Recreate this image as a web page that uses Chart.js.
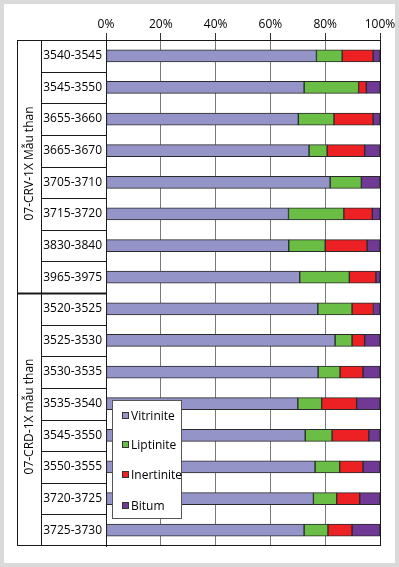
<!DOCTYPE html>
<html>
<head>
<meta charset="utf-8">
<script src="https://cdn.jsdelivr.net/npm/chart.js@4/dist/chart.umd.min.js"></script>
<style>
  html, body { margin:0; padding:0; background:#fff; }
  #wrap { position:relative; width:399px; height:567px; overflow:hidden; }
  #frame { position:absolute; left:0; top:0; width:399px; height:567px; box-sizing:border-box; border:4px solid #dadada; }
  #c { position:absolute; left:0; top:0; }
  #legend { position:absolute; left:112px; top:400px; width:70px; height:119px; box-sizing:border-box;
            border:1px solid #555; background:#fff; font-family:'Open Sans', sans-serif; font-size:12px; color:#000; }
  #legend .item { position:absolute; left:9px; height:16px; line-height:16px; white-space:nowrap; }
  #legend .sw { display:inline-block; width:5px; height:5px; border:1px solid #333; vertical-align:middle; margin-right:2px; position:relative; top:-1px; }
</style>
</head>
<body>
<div id="wrap">
  <div id="frame"></div>
  <canvas id="c" width="399" height="567"></canvas>
  <div id="legend"></div>
</div>
<script>
const categories = ['3540-3545','3545-3550','3655-3660','3665-3670','3705-3710','3715-3720','3830-3840','3965-3975',
                    '3520-3525','3525-3530','3530-3535','3535-3540','3545-3550','3550-3555','3720-3725','3725-3730'];
const groupLabels = ['07-CRV-1X Mẫu than', '07-CRD-1X mẫu than'];
const groupSizes = [8, 8];
const seriesNames = ['Vitrinite', 'Liptinite', 'Inertinite', 'Bitum'];
const vitrinite  = [76.8, 72.3, 70.2, 74.1, 81.8, 66.6, 66.7, 70.7, 77.3, 83.6, 77.4, 70.0, 72.7, 76.3, 75.7, 72.3];
const liptinite  = [ 9.4, 19.9, 13.0,  6.6, 11.4, 20.2, 13.3, 18.1, 12.5,  6.2,  8.0,  8.7,  9.8,  9.0,  8.5,  8.7];
const inertinite = [11.3,  2.8, 14.3, 13.7,  0.0, 10.4, 15.3,  9.7,  7.8,  4.6,  8.4, 12.8, 13.4,  8.5,  8.4,  8.8];
const bitum      = [ 2.5,  5.0,  2.5,  5.6,  6.8,  2.8,  4.7,  1.5,  2.4,  5.6,  6.2,  8.5,  4.1,  6.2,  7.4, 10.2];
const xTickValues = [0, 20, 40, 60, 80, 100];

const colors = ['#9594c8', '#6abd45', '#ed2024', '#703996'];
const FONT = "'Open Sans', sans-serif";

const tablePlugin = {
  id: 'tablePlugin',
  afterDraw(chart) {
    const ctx = chart.ctx;
    const ys = chart.scales.y;
    const area = chart.chartArea;
    const xL = 17.5, xM = 41.5, xP = area.left;
    const top = area.top, bot = area.bottom;
    ctx.save();
    ctx.strokeStyle = '#1a1a1a';
    ctx.lineWidth = 1;
    ctx.beginPath();
    ctx.moveTo(xL, top); ctx.lineTo(xL, bot);
    ctx.moveTo(xM, top); ctx.lineTo(xM, bot);
    ctx.moveTo(xL, top + 0.5); ctx.lineTo(xP, top + 0.5);
    ctx.moveTo(xL, bot - 0.5); ctx.lineTo(area.right, bot - 0.5);
    ctx.stroke();
    let boundaries = [];
    let acc = 0;
    groupSizes.forEach(n => { acc += n; boundaries.push(acc); });
    for (let i = 1; i < categories.length; i++) {
      const y = Math.round((ys.getPixelForValue(i - 1) + ys.getPixelForValue(i)) / 2) + 0.5;
      const isGroup = boundaries.includes(i);
      ctx.beginPath();
      ctx.lineWidth = isGroup ? 2 : 1;
      ctx.moveTo(isGroup ? xL : xM, y);
      ctx.lineTo(xP, y);
      ctx.stroke();
    }
    // group labels
    ctx.fillStyle = '#000';
    ctx.font = '12px ' + FONT;
    ctx.textAlign = 'center';
    ctx.textBaseline = 'middle';
    const step = ys.getPixelForValue(1) - ys.getPixelForValue(0);
    let start = 0;
    groupSizes.forEach((n, gi) => {
      const y0 = ys.getPixelForValue(start) - step / 2;
      const y1 = ys.getPixelForValue(start + n - 1) + step / 2;
      ctx.save();
      ctx.translate((xL + xM) / 2 + 0.5, (y0 + y1) / 2 - 3);
      ctx.rotate(-Math.PI / 2);
      ctx.fillText(groupLabels[gi], 0, 0);
      ctx.restore();
      start += n;
    });
    ctx.restore();
  }
};

const datasets = [vitrinite, liptinite, inertinite, bitum].map((d, i) => ({
  label: seriesNames[i],
  data: d,
  backgroundColor: colors[i],
  borderColor: '#2a2a2a',
  borderWidth: 1,
  borderSkipped: false,
  barThickness: 12
}));

const chart = new Chart(document.getElementById('c'), {
  type: 'bar',
  data: { labels: categories, datasets },
  options: {
    indexAxis: 'y',
    responsive: false,
    animation: false,
    devicePixelRatio: 1,
    layout: { padding: { left: 17, right: 19, top: 0, bottom: 21 } },
    plugins: { legend: { display: false }, tooltip: { enabled: false } },
    scales: {
      x: {
        position: 'top',
        stacked: true,
        min: 0, max: 100,
        afterBuildTicks(s) { s.ticks = xTickValues.map(v => ({ value: v })); },
        afterFit(s) { s.height = 40; },
        ticks: { callback: v => v + '%', color: '#000', font: { family: FONT, size: 12 }, padding: 1, maxRotation: 0 },
        grid: {
          color: c => (c.tick && (c.tick.value === 0 || c.tick.value === 100)) ? '#1a1a1a' : '#7a7a7a',
          tickColor: '#333',
          tickLength: 7,
          lineWidth: 1
        },
        border: { display: true, color: '#1a1a1a' }
      },
      y: {
        stacked: true,
        afterFit(s) { s.width = 89; },
        grid: { display: false, drawTicks: false },
        border: { display: true, color: '#1a1a1a' },
        ticks: { color: '#000', font: { family: FONT, size: 12 }, padding: 4 }
      }
    }
  },
  plugins: [tablePlugin]
});

// HTML legend built from datasets
const legend = document.getElementById('legend');
const legendTops = [6.5, 36, 66, 96.5];
chart.data.datasets.forEach((ds, i) => {
  const item = document.createElement('div');
  item.className = 'item';
  item.style.top = legendTops[i] + 'px';
  const sw = document.createElement('span');
  sw.className = 'sw';
  sw.style.background = ds.backgroundColor;
  item.appendChild(sw);
  item.appendChild(document.createTextNode(ds.label));
  legend.appendChild(item);
});
</script>
</body>
</html>
